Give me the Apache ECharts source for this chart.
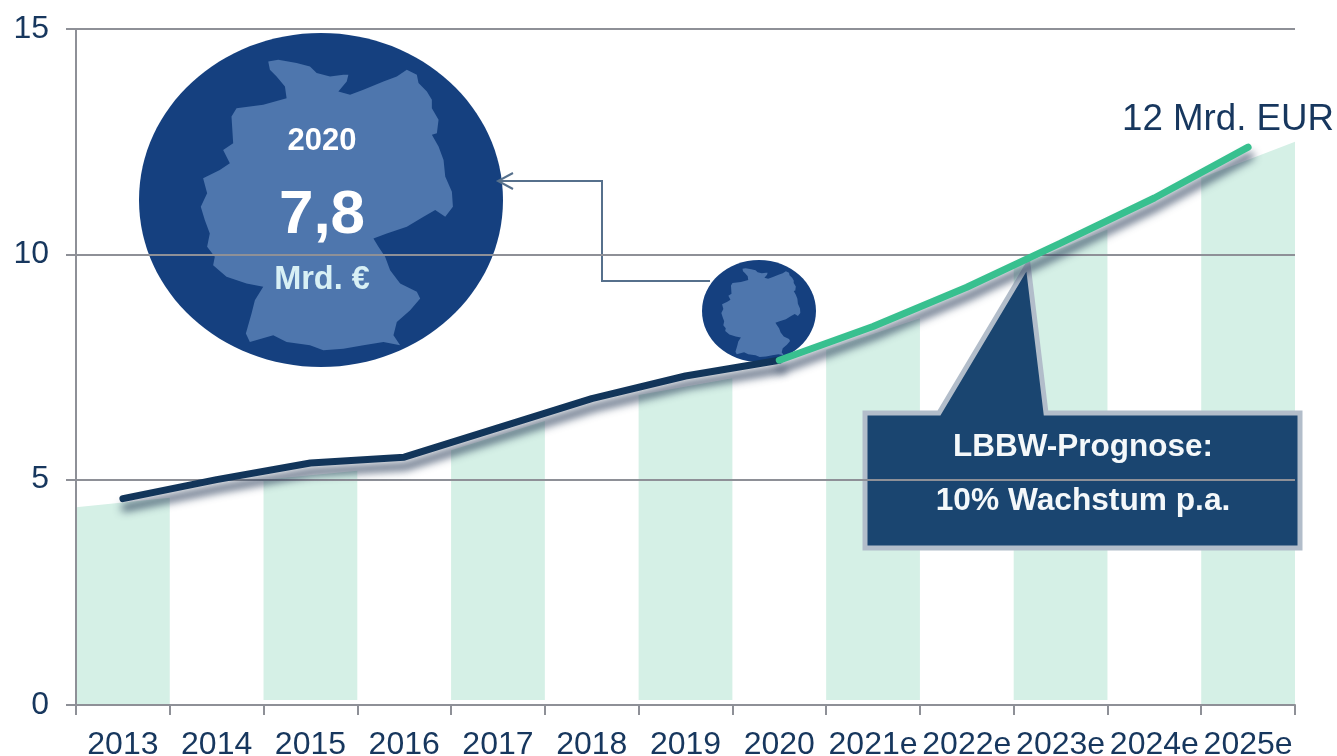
<!DOCTYPE html>
<html>
<head>
<meta charset="utf-8">
<style>
  html, body { margin: 0; padding: 0; background: #fff; }
  #chart { width: 1337px; height: 756px; }
</style>
<script src="https://cdn.jsdelivr.net/npm/echarts@6/dist/echarts.min.js"></script>
</head>
<body>
<div id="chart"></div>
<script>
const years = ['2013', '2014', '2015', '2016', '2017', '2018', '2019', '2020', '2021e', '2022e', '2023e', '2024e', '2025e'];
const actual = [4.58, 5.0, 5.37, 5.5, 6.15, 6.8, 7.3, 7.65, null, null, null, null, null];
const forecast = [null, null, null, null, null, null, null, 7.65, 8.4, 9.27, 10.25, 11.25, 12.38];
// green bands: only every second year, the top edge follows the line
const bandYears = ['2013', '2015', '2017', '2019', '2021e', '2023e', '2025e'];
const bandBottom = [0, 0.11, 0.11, 0.11, 0.11, 0.11, 0];
const bandTopLeft = [4.39, 5.0, 5.65, 6.88, 7.88, 9.7, 11.7];
const bandTopRight = [4.6, 5.2, 6.3, 7.25, 8.58, 10.55, 12.5];
const yTicks = [0, 5, 10, 15];

// outline of Germany, scaled into each circle by globe() below
const germany = [[445,120],[500,130],[540,140],[560,160],[600,170],[640,165],[655,165],[650,185],[625,215],[660,225],[700,210],[760,185],[800,170],[830,150],[860,165],[865,190],[890,215],[905,240],[905,265],[925,300],[920,340],[905,345],[925,380],[940,420],[945,470],[965,515],[968,560],[945,590],[915,570],[880,590],[830,620],[770,640],[730,655],[745,680],[765,710],[780,750],[810,790],[860,815],[870,835],[840,870],[800,905],[790,945],[810,975],[760,965],[700,975],[640,985],[580,990],[540,975],[470,965],[430,945],[360,965],[348,940],[365,880],[375,840],[400,800],[350,790],[290,770],[250,735],[255,710],[232,680],[240,640],[225,600],[213,560],[232,520],[220,475],[270,450],[300,430],[280,390],[310,370],[305,290],[320,265],[400,255],[470,235],[465,200],[440,170],[420,150],[415,125]];

const textColor = '#17375e';
const axisColor = '#8e9097';
const fontName = '"Liberation Sans", Arial, sans-serif';

function globe(cx, cy, rx, ry) {
  // 573,540 is the circle centre in the outline's coordinates, 545,500 its radii
  const pts = germany.map(function (p) {
    return [cx + (p[0] - 573) / 545 * rx, cy + (p[1] - 540) / 500 * ry];
  });
  return [
    { type: 'ellipse', z: 1, shape: { cx: cx, cy: cy, rx: rx, ry: ry }, style: { fill: '#15407f' } },
    { type: 'polygon', z: 1, shape: { points: pts }, style: { fill: '#4e76ad' } }
  ];
}

function label(text, x, y, size, color, weight) {
  return {
    type: 'text', z: 5, x: x, y: y,
    style: {
      text: text, fill: color, font: (weight || 'normal') + ' ' + size + 'px ' + fontName,
      textAlign: 'center', textVerticalAlign: 'middle'
    }
  };
}

const lineShadow = { shadowColor: 'rgba(30,50,80,0.8)', shadowBlur: 9, shadowOffsetY: 9, shadowOffsetX: 2 };

const myChart = echarts.init(document.getElementById('chart'), null, { renderer: 'canvas' });
const option = {
  animation: false,
  backgroundColor: '#fff',
  // labels sit tight against the page edge, keep the plot where it is
  grid: { left: 76, right: 42, top: 29, bottom: 51, outerBoundsMode: 'none' },
  xAxis: {
    type: 'category',
    data: years,
    axisLine: { onZero: false, lineStyle: { color: axisColor, width: 2 } },
    axisTick: { show: true, alignWithLabel: false, length: 10, lineStyle: { color: axisColor, width: 2 } },
    axisLabel: { interval: 0, margin: 24, color: textColor, fontSize: 32, fontFamily: fontName }
  },
  yAxis: {
    type: 'value',
    min: 0,
    max: 15,
    interval: 5,
    z: 3,
    axisLine: { show: true, lineStyle: { color: axisColor, width: 2 } },
    axisTick: { show: true, length: 10, lineStyle: { color: axisColor, width: 2 } },
    axisLabel: {
      margin: 27, color: textColor, fontSize: 32, fontFamily: fontName,
      formatter: function (v) { return yTicks.indexOf(v) >= 0 ? String(v) : ''; }
    },
    splitLine: { show: true, lineStyle: { color: axisColor, width: 2 } }
  },
  series: [
    {
      name: 'Band',
      type: 'custom',
      z: 0,
      silent: true,
      encode: { x: 0, y: [1, 2, 3] },
      data: bandYears.map(function (y, i) {
        return [y, bandBottom[i], bandTopLeft[i], bandTopRight[i]];
      }),
      renderItem: function (params, api) {
        const idx = api.value(0);
        const w = api.size([1, 0])[0];
        const xc = api.coord([idx, 0])[0];
        const bottom = api.coord([idx, api.value(1)])[1];
        const topL = api.coord([idx, api.value(2)])[1];
        const topR = api.coord([idx, api.value(3)])[1];
        return {
          type: 'polygon',
          shape: { points: [[xc - w / 2, bottom], [xc - w / 2, topL], [xc + w / 2, topR], [xc + w / 2, bottom]] },
          style: { fill: '#d5f0e6' }
        };
      }
    },
    {
      name: 'Ist',
      type: 'line',
      z: 4,
      data: actual,
      showSymbol: false,
      silent: true,
      lineStyle: Object.assign({ color: '#12355a', width: 7, cap: 'round' }, lineShadow)
    },
    {
      name: 'Prognose',
      type: 'line',
      z: 4,
      data: forecast,
      showSymbol: false,
      silent: true,
      lineStyle: Object.assign({ color: '#38c08f', width: 7, cap: 'round' }, lineShadow)
    }
  ],
  graphic: [].concat(
    globe(321, 200, 182, 167),
    globe(759, 311, 57, 51),
    [
      // connector from the small globe to the big one
      { type: 'polyline', z: 1, shape: { points: [[710, 281], [602, 281], [602, 181], [499, 181]] }, style: { fill: 'none', stroke: '#56708c', lineWidth: 2 } },
      { type: 'polyline', z: 1, shape: { points: [[513, 173], [498, 181], [513, 189]] }, style: { fill: 'none', stroke: '#56708c', lineWidth: 2 } },
      // callout
      {
        type: 'polygon', z: 2,
        shape: { points: [[865, 413], [939, 413], [1028, 264], [1046, 413], [1300, 413], [1300, 548], [865, 548]] },
        style: { fill: '#1a4570', stroke: '#b2bdca', lineWidth: 5 }
      },
      label('LBBW-Prognose:', 1083, 447, 31.5, '#f4f8fa', 'bold'),
      label('10% Wachstum p.a.', 1083, 501, 31.7, '#f4f8fa', 'bold'),
      label('12 Mrd. EUR', 1228, 120, 36.7, textColor),
      label('2020', 322, 141, 31, '#ffffff', 'bold'),
      label('7,8', 322, 216, 62, '#ffffff', 'bold'),
      label('Mrd. €', 322, 280, 32.5, '#d8f0f5', 'bold')
    ]
  )
};
myChart.setOption(option);
window.addEventListener('resize', function () {
  myChart.resize();
});
</script>
</body>
</html>
